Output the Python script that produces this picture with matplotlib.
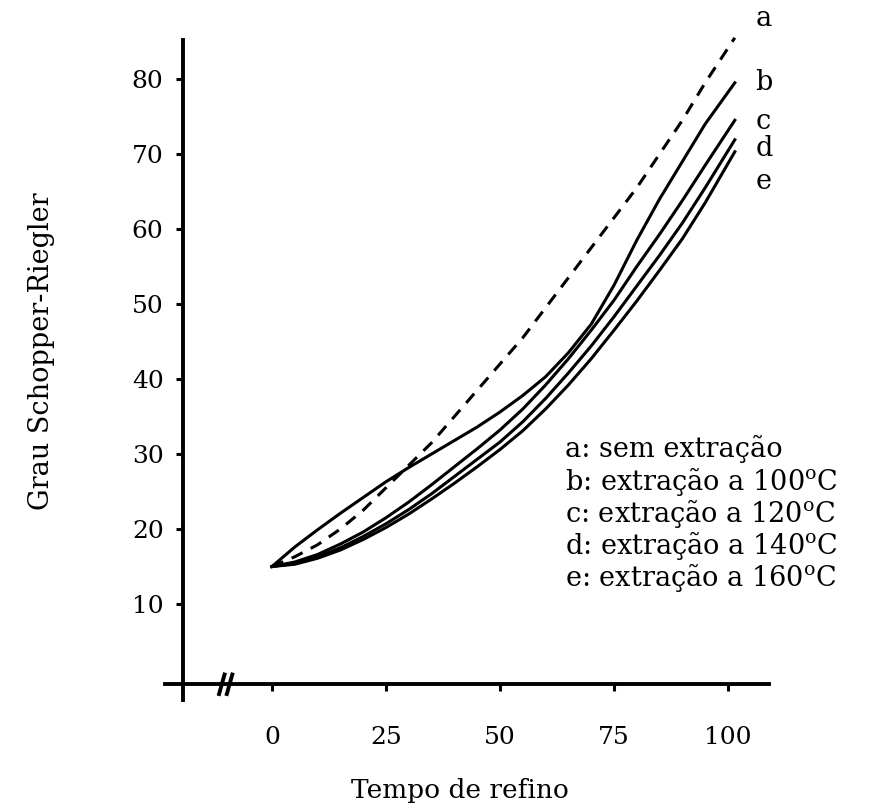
import matplotlib.pyplot as plt

plt.rcParams['font.family'] = ['DejaVu Serif', 'DejaVu Sans']
plt.rcParams['mathtext.fontset'] = 'custom'
plt.rcParams['mathtext.rm'] = 'DejaVu Serif'

# curves (tempo de refino, grau SR)
tempo = [0, 5, 10, 15, 20, 25, 30, 35, 40, 45, 50, 55, 60, 65, 70, 75,
         80, 85, 90, 95, 101.5]
grau_a = [15, 16.3, 17.9, 20, 22.5, 25.5, 28.5, 31.5, 35, 38.5, 42, 45.5,
          49.5, 53.5, 57.5, 61.5, 65.5, 70, 74.5, 79.5, 85.5]
grau_b = [15, 17.6, 19.9, 22.1, 24.2, 26.3, 28.2, 30, 31.8, 33.6, 35.6, 37.8,
          40.3, 43.5, 47.3, 52.5, 58.5, 64, 69, 74, 79.5]
grau_c = [15, 15.6, 16.6, 18, 19.6, 21.5, 23.6, 25.9, 28.3, 30.7, 33.2, 36,
          39.2, 42.7, 46.5, 50.5, 55, 59.3, 63.8, 68.5, 74.5]
grau_d = [15, 15.4, 16.3, 17.5, 19, 20.7, 22.6, 24.7, 27, 29.3, 31.6, 34.3,
          37.4, 40.8, 44.4, 48.3, 52.4, 56.5, 60.8, 65.5, 71.9]
grau_e = [15, 15.3, 16.1, 17.2, 18.6, 20.2, 22, 24, 26.1, 28.3, 30.6, 33.1,
          36, 39.2, 42.7, 46.5, 50.4, 54.5, 58.7, 63.5, 70.3]

curve_tags = ['a', 'b', 'c', 'd', 'e']
tag_y = [88.1, 79.5, 74.3, 70.8, 66.3]

legend_lines = [
    'a: sem extração',
    'b: extração a 100$^{\\mathrm{o}}$C',
    'c: extração a 120$^{\\mathrm{o}}$C',
    'd: extração a 140$^{\\mathrm{o}}$C',
    'e: extração a 160$^{\\mathrm{o}}$C',
]

x_ticks = [0, 25, 50, 75, 100]
y_ticks = [10, 20, 30, 40, 50, 60, 70, 80]

fig = plt.figure(figsize=(8.83, 8.06), dpi=100)
ax = fig.add_axes([0.1789, 0.0738, 0.7075, 0.9212])
ax.set_xlim(-25, 112)
ax.set_ylim(-9, 90)

lw = 2.2
ax.plot(tempo, grau_a, color='black', lw=lw, ls=(0, (4, 3)))
for g in [grau_b, grau_c, grau_d, grau_e]:
    ax.plot(tempo, g, color='black', lw=lw)

for t, y in zip(curve_tags, tag_y):
    ax.text(106, y, t, fontsize=19.5, va='center', ha='left', clip_on=False)

for i, s in enumerate(legend_lines):
    fig.text(565 / 883, 1 - (449 + 32 * i) / 806, s, fontsize=19.5,
             va='center', ha='left')

# axes like the hand-drawn original
for side in ['top', 'right']:
    ax.spines[side].set_visible(False)
ax.spines['left'].set_position(('data', -19.5))
ax.spines['left'].set_bounds(-2.8, 85.2)
ax.spines['bottom'].set_position(('data', -0.7))
ax.spines['bottom'].set_bounds(-23.5, 109)
for side in ['left', 'bottom']:
    ax.spines[side].set_linewidth(2.8)

# axis break
for xb in [-11, -9.3]:
    ax.plot([xb - 0.6, xb + 0.6], [-2.0, 0.6], color='black', lw=2.8,
            clip_on=False)

ax.set_xticks(x_ticks)
ax.set_yticks(y_ticks)
ax.tick_params(axis='both', direction='out', length=5, width=2.2,
               labelsize=18)
ax.tick_params(axis='x', pad=25)
ax.tick_params(axis='y', pad=9)

ax.set_xlabel('Tempo de refino', fontsize=19)
ax.xaxis.set_label_coords(0.483, -0.043)
ax.set_ylabel('Grau Schopper-Riegler', fontsize=19.5)
ax.yaxis.set_label_coords(-0.165, 0.533)

fig.savefig('out.png', dpi=100)
